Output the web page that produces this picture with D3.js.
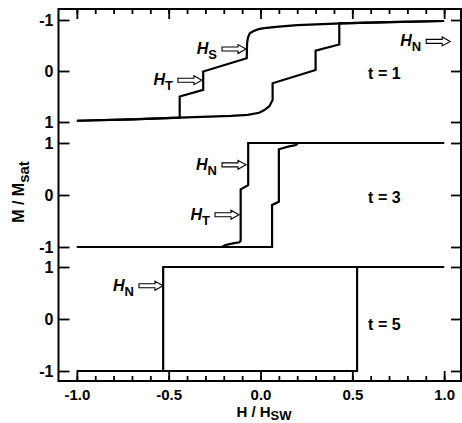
<!DOCTYPE html>
<html>
<head>
<meta charset="utf-8">
<script src="https://cdn.jsdelivr.net/npm/d3@7"></script>
<style>
  body { margin: 0; background: #fff; }
  svg { display: block; }
  text { font-family: "Liberation Sans", Arial, sans-serif; font-weight: bold; fill: #000; }
</style>
</head>
<body>
<svg id="chart" width="462" height="423"></svg>
<script>
// tick values and labels
const hTicks = [-1, -0.5, 0, 0.5, 1];
const hTickLabels = ["-1.0", "-0.5", "0.0", "0.5", "1.0"];
const hMinorTicks = [-1, -0.9, -0.8, -0.7, -0.6, -0.5, -0.4, -0.3, -0.2, -0.1, 0,
  0.1, 0.2, 0.3, 0.4, 0.5, 0.6, 0.7, 0.8, 0.9, 1];
const mTicks = [-1, 0, 1];
const panelNames = ["t = 1", "t = 3", "t = 5"];

// t = 1 : [H/Hsw, M/Msat]
const t1BranchA = [
  [-1.0, 0.975], [-0.7, 0.95], [-0.44, 0.915], [-0.44, 0.50], [-0.312, 0.37],
  [-0.312, 0.01], [-0.075, -0.25], [-0.073, -0.55], [-0.068, -0.66], [-0.058, -0.74],
  [-0.04, -0.78], [-0.01, -0.82], [0.02, -0.84], [0.1, -0.87], [0.2, -0.90],
  [0.44, -0.935], [0.7, -0.96], [1.0, -0.98]
];
const t1BranchB = [
  [-1.0, 0.975], [-0.7, 0.95], [-0.44, 0.915], [-0.16, 0.88], [-0.07, 0.86],
  [-0.007, 0.82], [0.021, 0.765], [0.048, 0.69], [0.066, 0.57], [0.066, 0.24],
  [0.30, -0.02], [0.30, -0.40], [0.429, -0.52], [0.429, -0.935], [0.7, -0.96], [1.0, -0.98]
];

// t = 3
const t3BranchA = [
  [-1.0, -1.0], [-0.21, -1.0], [-0.19, -0.96], [-0.15, -0.93], [-0.115, -0.91],
  [-0.108, -0.88], [-0.108, 0.11], [-0.067, 0.19], [-0.067, 1.0], [1.0, 1.0]
];
const t3BranchB = [
  [-1.0, -1.0], [0.063, -1.0], [0.063, -0.19], [0.10, -0.13], [0.10, 0.88],
  [0.15, 0.93], [0.193, 0.96], [0.205, 1.0], [1.0, 1.0]
];

// t = 5
const t5BranchA = [[-1.0, -1.0], [-0.53, -1.0], [-0.53, 1.0], [1.0, 1.0]];
const t5BranchB = [[-1.0, -1.0], [0.526, -1.0], [0.526, 1.0], [1.0, 1.0]];

const panelCurves = [[t1BranchA, t1BranchB], [t3BranchA, t3BranchB], [t5BranchA, t5BranchB]];

// arrow annotations: panel, subscript, arrow tip [H, M]
const notePanel = [0, 0, 0, 1, 1, 2];
const noteSub = ["S", "T", "N", "N", "T", "N"];
const noteTip = [[-0.079, -0.43], [-0.319, 0.18], [1.033, -0.58], [-0.079, 0.58], [-0.117, -0.38], [-0.531, 0.64]];

// panel label anchor [H, M]
const panelLabelAt = [[0.586, 0.16], [0.586, -0.15], [0.586, -0.21]];

const svg = d3.select("#chart");
const frameTop = 9, frameBottom = 381;

const x = d3.scaleLinear().domain([-1.1, 1.1]).range([58.5, 462.5]);
const panelRanges = [[20, 122], [247, 143], [371, 267]];
const ys = panelRanges.map(r => d3.scaleLinear().domain([-1, 1]).range(r));

// curves
const line = y => d3.line().x(d => x(d[0])).y(d => y(d[1]));
panelCurves.forEach((curves, i) => {
  svg.append("g").selectAll("path")
    .data(curves)
    .enter().append("path")
    .attr("d", line(ys[i]))
    .attr("fill", "none")
    .attr("stroke", "#000")
    .attr("stroke-width", 2.2)
    .attr("stroke-linejoin", "miter");
});

// axes
function styleAxis(sel, size = 16) {
  sel.select(".domain").remove();
  sel.selectAll(".tick line").attr("stroke", "#000").attr("stroke-width", 1.8);
  sel.selectAll(".tick text").attr("font-size", size).attr("fill", "#000");
}

svg.append("g")
  .attr("transform", `translate(0,${frameBottom})`)
  .call(d3.axisBottom(x).tickValues(hMinorTicks).tickSizeInner(-5).tickSizeOuter(0).tickFormat(""))
  .call(styleAxis);
svg.append("g")
  .attr("transform", `translate(0,${frameBottom})`)
  .call(d3.axisBottom(x).tickValues(hTicks).tickSizeInner(-10).tickSizeOuter(0).tickPadding(8)
    .tickFormat((d, i) => hTickLabels[i]))
  .call(styleAxis, 15);
svg.append("g")
  .attr("transform", `translate(0,${frameTop})`)
  .call(d3.axisTop(x).tickValues(hMinorTicks).tickSizeInner(-5).tickSizeOuter(0).tickFormat(""))
  .call(styleAxis);
svg.append("g")
  .attr("transform", `translate(0,${frameTop})`)
  .call(d3.axisTop(x).tickValues(hTicks).tickSizeInner(-10).tickSizeOuter(0).tickFormat(""))
  .call(styleAxis);

ys.forEach(y => {
  svg.append("g")
    .attr("transform", `translate(${x(-1.1)},0)`)
    .call(d3.axisLeft(y).tickValues(mTicks).tickSizeInner(-11).tickSizeOuter(0).tickPadding(5)
      .tickFormat(d => String(d)))
    .call(styleAxis);
  svg.append("g")
    .attr("transform", `translate(${x(1.1) - 1.5},0)`)
    .call(d3.axisRight(y).tickValues(mTicks).tickSizeInner(-10).tickSizeOuter(0).tickFormat(""))
    .call(styleAxis);
});

// frame
svg.append("rect")
  .attr("x", x(-1.1))
  .attr("y", frameTop)
  .attr("width", x(1.1) - 1.5 - x(-1.1))
  .attr("height", frameBottom - frameTop)
  .attr("fill", "none")
  .attr("stroke", "#000")
  .attr("stroke-width", 2);

// panel labels
panelNames.forEach((name, i) => {
  svg.append("text")
    .attr("x", x(panelLabelAt[i][0]))
    .attr("y", ys[i](panelLabelAt[i][1]))
    .attr("font-size", 16)
    .text(name);
});

// arrow annotations
const arrowShape = "M-24,-2L-8,-2L-8,-4.5L0,0L-8,4.5L-8,2L-24,2Z";
noteTip.forEach((tip, i) => {
  const tx = x(tip[0]), ty = ys[notePanel[i]](tip[1]);
  svg.append("path")
    .attr("d", arrowShape)
    .attr("transform", `translate(${tx},${ty})`)
    .attr("fill", "#fff")
    .attr("stroke", "#000")
    .attr("stroke-width", 1.1);
  const t = svg.append("text")
    .attr("x", tx - 29)
    .attr("y", ty + 5)
    .attr("text-anchor", "end");
  t.append("tspan").attr("font-size", 16).attr("font-style", "italic").text("H");
  t.append("tspan").attr("font-size", 13).attr("dy", 5).text(noteSub[i]);
});

// axis titles
const xTitle = svg.append("text")
  .attr("x", 264)
  .attr("y", 417)
  .attr("text-anchor", "middle")
  .attr("font-size", 15);
xTitle.append("tspan").text("H / H");
xTitle.append("tspan").attr("dy", 3).attr("font-size", 13).text("SW");

const yTitle = svg.append("text")
  .attr("transform", "translate(23.5,192) rotate(-90)")
  .attr("text-anchor", "middle")
  .attr("font-size", 16);
yTitle.append("tspan").text("M / M");
yTitle.append("tspan").attr("dy", 5).attr("font-size", 15).text("sat");
</script>
</body>
</html>
